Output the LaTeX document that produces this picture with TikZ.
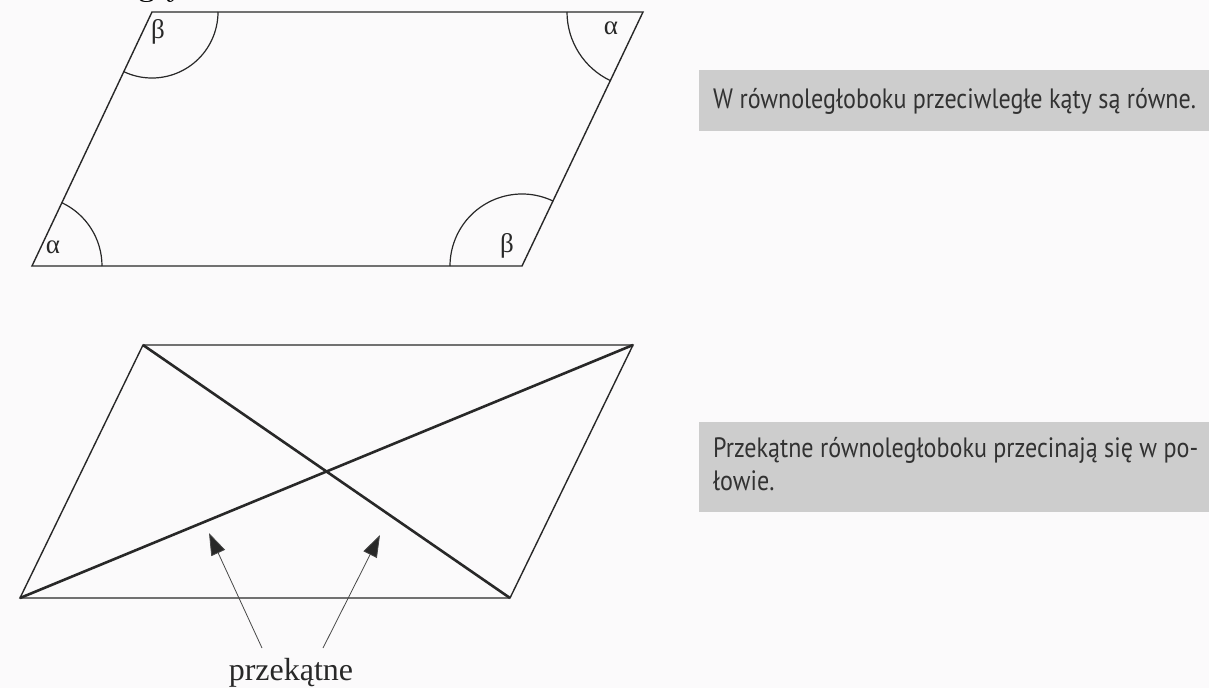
\documentclass[tikz,border=0pt]{standalone}
\usepackage{fontspec}
\usetikzlibrary{calc}
\usetikzlibrary{angles}
\usetikzlibrary{arrows.meta}
\newfontfamily\lblfont{Liberation Serif}
\newfontfamily\boxfont[FakeStretch=0.86]{PT Sans}
\definecolor{bgcol}{RGB}{251,250,251}
\definecolor{boxgray}{RGB}{205,205,205}
\definecolor{inkcol}{RGB}{40,40,40}
\definecolor{txtcol}{RGB}{50,50,50}

\tikzset{
  edge/.style={draw=inkcol,line width=1.4pt,line join=miter},
  diag/.style={draw=inkcol,line width=2.6pt},
  ang/.style={draw=inkcol,line width=1.2pt,angle radius=#1},
  greek/.style={font=\lblfont\fontsize{27}{27}\selectfont,text=inkcol,inner sep=0pt},
  ptr/.style={draw=inkcol!85,line width=0.8pt,-{Triangle[length=22pt,width=15pt,fill=inkcol]}},
  notetext/.style={font=\boxfont\fontsize{28}{33}\selectfont,text=txtcol,inner sep=0pt,anchor=base west}
}

\begin{document}
\begin{tikzpicture}[x=1pt,y=-1pt]
\fill[bgcol] (0,0) rectangle (1209,688);
\useasboundingbox (0,0) rectangle (1209,688);

\node[font=\bfseries\fontsize{30}{30}\selectfont,anchor=base west,inner sep=0pt] (head) at (138,-3) {g y};

\coordinate (a) at (32,266);
\coordinate (b) at (522,266);
\coordinate (c) at (643,12);
\coordinate (d) at (152,12);
\draw[edge] (a) -- (b) -- (c) -- (d) -- cycle;
\pic[ang=70pt] {angle=b--a--d};
\pic[ang=76pt] {angle=d--c--b};
\pic[ang=66pt] {angle=a--d--c};
\pic[ang=72pt] {angle=c--b--a};
\node[greek] (al1) at (53,247) {α};
\node[greek] (al2) at (611,28) {α};
\node[greek] (be1) at (158,32) {β};
\node[greek] (be2) at (507,246) {β};

\coordinate (p) at (20,598);
\coordinate (q) at (510,598);
\coordinate (r) at (633,345);
\coordinate (s) at (143,345);
\draw[edge] (p) -- (q) -- (r) -- (s) -- cycle;
\draw[diag] (p) -- (r);
\draw[diag] (s) -- (q);

\node[font=\lblfont\fontsize{32}{32}\selectfont,text=inkcol,anchor=base,inner sep=0pt] (lbl) at (291,680) {przekątne};
\coordinate (s1) at (262,648);
\coordinate (s2) at (323,648);
\coordinate (t1) at (209,533);
\coordinate (t2) at (380,535);
\draw[ptr] (s1) -- (t1);
\draw[ptr] (s2) -- (t2);

\fill[boxgray] (699,70) rectangle (1209,131);
\node[notetext] (n1) at (713,108) {W równoległoboku przeciwległe kąty są równe.};
\fill[boxgray] (699,422) rectangle (1209,512);
\node[notetext,align=left] (n2) at (713,490) {Przekątne równoległoboku przecinają się w po-\\łowie.};
\end{tikzpicture}
\end{document}
